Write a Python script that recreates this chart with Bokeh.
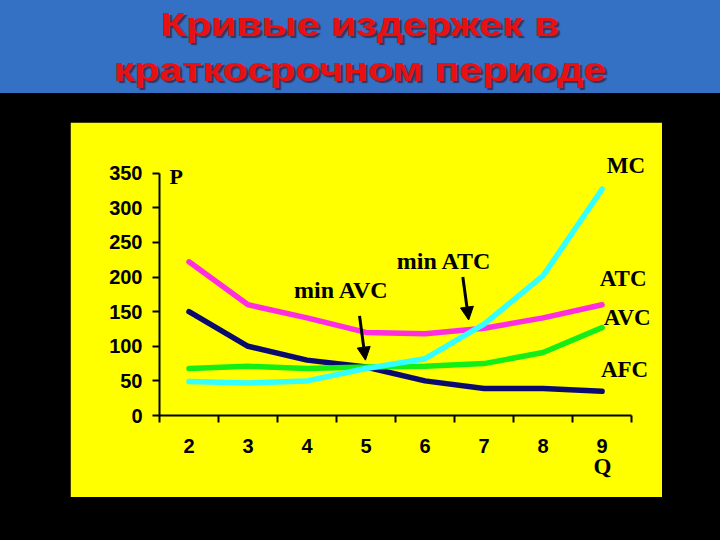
from bokeh.plotting import figure
from bokeh.models import Range1d, FixedTicker, Label, Arrow, NormalHead, Div, Title
from bokeh.layouts import column, row
from bokeh.embed import file_html
from bokeh.resources import INLINE

# ---- data ----
q = [2, 3, 4, 5, 6, 7, 8, 9]
afc = [150, 100, 80, 70, 50, 39, 39, 35]
atc = [222, 160, 141, 120, 118, 126, 141, 160]
avc = [68, 71, 68, 70, 71, 75, 91, 127]
mc = [49, 47, 50, 68, 82, 132, 202, 327]
y_ticks = [0, 50, 100, 150, 200, 250, 300, 350]
title_lines = ["Кривые издержек в", "краткосрочном периоде"]

series = [
    ("AFC", afc, "#0b0b6e"),
    ("AVC", avc, "#14ee14"),
    ("ATC", atc, "#ff2ee0"),
    ("MC", mc, "#33ffff"),
]

YELLOW = "#ffff00"
BLACK = "#000000"

p = figure(width=592, height=375,
           x_range=Range1d(1.5, 9.99), y_range=Range1d(0, 419),
           output_backend="svg", toolbar_location=None,
           min_border_left=89, min_border_right=2,
           min_border_top=3, min_border_bottom=82,
           background_fill_color=YELLOW, border_fill_color=YELLOW,
           outline_line_color=YELLOW, outline_line_width=3)
p.grid.visible = False

for name, vals, col in series:
    p.line(q, vals, line_color=col, line_width=5.5,
           line_cap="round", line_join="round")

xa = p.xaxis[0]
xa.bounds = (1.5, 9.5)
xa.ticker = FixedTicker(ticks=q, minor_ticks=[v - 0.5 for v in q] + [q[-1] + 0.5])
xa.major_tick_out = 0
xa.major_tick_in = 0
xa.minor_tick_out = 7
xa.minor_tick_in = 0
xa.minor_tick_line_width = 2
xa.minor_tick_line_color = BLACK
xa.major_label_standoff = 16

ya = p.yaxis[0]
ya.bounds = (0, 350)
ya.ticker = FixedTicker(ticks=y_ticks)
ya.major_tick_out = 7
ya.major_tick_in = 0
ya.minor_tick_out = 0
ya.minor_tick_in = 0
ya.major_tick_line_width = 2
ya.major_label_standoff = 10

for ax in (xa, ya):
    ax.axis_line_width = 2
    ax.axis_line_color = BLACK
    ax.major_tick_line_color = BLACK
    ax.major_label_text_font = "Liberation Sans"
    ax.major_label_text_font_style = "bold"
    ax.major_label_text_font_size = "20px"
    ax.major_label_text_color = BLACK

def lab(text, x, y, size="23px", align="left"):
    p.add_layout(Label(x=x, y=y, text=text, text_font="Liberation Serif",
                       text_font_style="bold", text_font_size=size,
                       text_color=BLACK, text_align=align,
                       text_baseline="alphabetic"))

lab("P", 1.67, 345, size="22px")
lab("MC", 9.08, 361)
lab("ATC", 8.96, 198)
lab("AVC", 9.03, 141)
lab("AFC", 8.98, 67)
lab("min AVC", 3.78, 181, size="24px")
lab("min ATC", 5.52, 223, size="24px")

p.add_layout(Title(text="Q", align="left", offset=434, standoff=-8,
                   text_font="Liberation Serif", text_font_style="bold",
                   text_font_size="23px", text_color=BLACK), "below")

for xs, ys, xe, ye in [(4.89, 144, 4.99, 80), (6.64, 200, 6.74, 138)]:
    p.add_layout(Arrow(end=NormalHead(size=13, fill_color=BLACK, line_color=BLACK, line_width=1),
                       x_start=xs, y_start=ys, x_end=xe, y_end=ye,
                       line_width=3, line_color=BLACK))

title_html = (
    '<div style="width:720px;height:93px;overflow:hidden;">'
    '<div style="margin:0;padding-top:2px;text-align:center;color:#e81010;'
    "font-family:'Liberation Sans';font-weight:bold;font-size:34px;line-height:45px;"
    'transform:scaleX(1.21);text-shadow:2px 2px 1px rgba(60,0,0,0.55);">'
    + "<br>".join(title_lines) +
    '</div></div>'
)
title = Div(text=title_html, width=720, height=93, margin=0,
            styles={"background-color": "#3470c4", "padding": "0"})

def blk(w, h):
    return Div(text="", width=w, height=h, margin=0,
               styles={"background-color": BLACK})

layout = column(
    title,
    blk(720, 29),
    row(blk(70, 375), p, blk(58, 375), margin=0),
    blk(720, 43),
    margin=0,
    styles={"background-color": BLACK},
)

open("out.html", "w").write(file_html(layout, INLINE))
